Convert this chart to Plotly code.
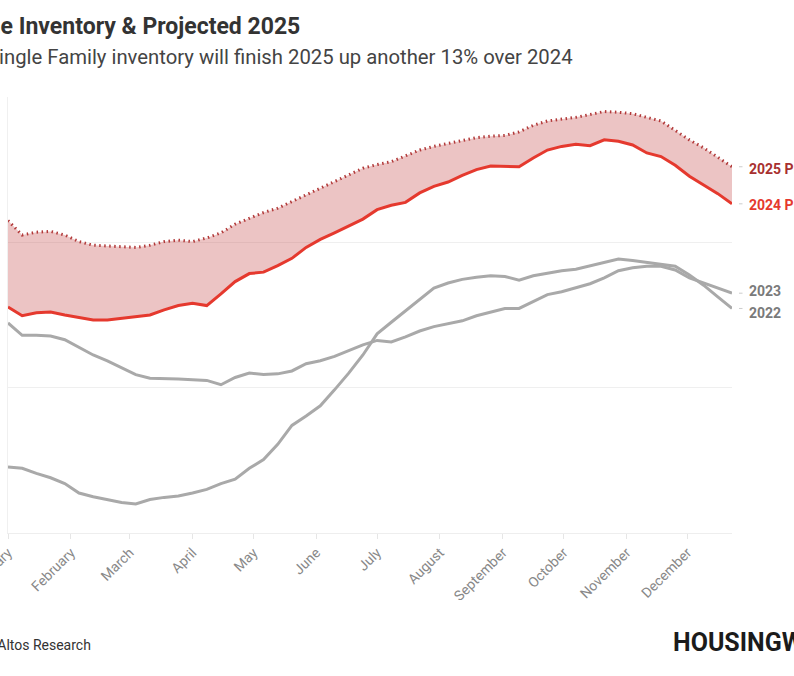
import pandas as pd
import plotly.graph_objects as go

# Weekly single-family inventory (thousands of homes), week starting dates
weeks = pd.date_range("2024-01-01", periods=52, freq="7D")

inv_2022 = [291, 289, 282, 276, 268, 255, 250, 246, 242, 240, 246, 249, 251, 255, 260, 268,
            274, 289, 301, 322, 348, 361, 375, 397, 420, 445, 474, 490, 506, 522, 537, 544,
            549, 552, 554, 553, 548, 554, 558, 561, 563, 568, 573, 577, 575, 572, 570, 567,
            555, 541, 525, 509]
inv_2023 = [489, 472, 472, 471, 466, 456, 445, 437, 428, 418, 413, 413, 412, 411, 410, 404,
            414, 420, 418, 419, 423, 433, 437, 443, 451, 459, 465, 463, 470, 478, 484, 488,
            492, 499, 504, 509, 509, 519, 528, 532, 538, 543, 551, 561, 565, 567, 567, 562,
            551, 544, 536, 530]
inv_2024 = [511, 499, 503, 504, 500, 496, 493, 493, 495, 498, 500, 507, 513, 516, 513, 529,
            546, 557, 559, 568, 578, 593, 604, 613, 622, 632, 645, 651, 655, 668, 677, 683,
            692, 700, 705, 705, 704, 716, 727, 732, 735, 733, 741, 739, 734, 723, 718, 706,
            691, 679, 667, 653]
proj_2025 = [630, 610, 614, 615, 610, 601, 596, 595, 594, 593, 596, 601, 603, 601, 606, 613,
             625, 633, 641, 647, 656, 665, 675, 684, 693, 702, 707, 711, 719, 727, 732, 736,
             740, 744, 746, 747, 752, 761, 767, 769, 772, 776, 780, 779, 777, 772, 767, 754,
             741, 730, 717, 704]

series_labels = ["2025 Projected", "2024 Projected", "2023", "2022"]

GRAY = "#a9a9a9"
RED = "#e5392e"
DARKRED = "#a8302f"

fig = go.Figure()
fig.add_trace(go.Scatter(x=weeks, y=inv_2022, mode="lines", line=dict(color=GRAY, width=3),
                         hoverinfo="skip"))
fig.add_trace(go.Scatter(x=weeks, y=inv_2023, mode="lines", line=dict(color=GRAY, width=3),
                         hoverinfo="skip"))
fig.add_trace(go.Scatter(x=weeks, y=inv_2024, mode="lines", line=dict(color=RED, width=3),
                         hoverinfo="skip"))
fig.add_trace(go.Scatter(x=weeks, y=proj_2025, mode="lines", fill="tonexty",
                         fillcolor="rgba(196,70,70,0.32)",
                         line=dict(color="#b23a3a", width=3, dash="1.5px,3.5px"),
                         hoverinfo="skip"))

W, H = 794, 676
L, R, T, B = 8, 62, 97, 143
pw = W - L - R
ph = H - T - B


def px(xp):
    return (xp - L) / pw


def py(yp):
    return (H - B - yp) / ph


annotations = [
    dict(text="<b>Single Family Home Inventory & Projected 2025</b>", x=px(302), y=py(27),
         xanchor="right", yanchor="middle", font=dict(family="Roboto", size=23, color="#333333")),
    dict(text="Single Family inventory will finish 2025 up another 13% over 2024", x=px(575), y=py(57),
         xanchor="right", yanchor="middle", font=dict(family="Roboto", size=20.3, color="#444444")),
    dict(text="Source: Altos Research", x=px(93), y=py(645), xanchor="right", yanchor="middle",
         font=dict(family="Roboto", size=14, color="#333333")),
    dict(text="<b>HOUSINGWIRE</b>", x=px(671), y=py(642), xanchor="left", yanchor="middle",
         font=dict(family="Roboto", size=25, color="#1b1b1b")),
]

end_vals = [proj_2025[-1], inv_2024[-1], inv_2023[-1], inv_2022[-1]]
label_colors = [DARKRED, RED, "#7a7a7a", "#7a7a7a"]
shifts = [-2, -1, 2, -5]
shapes = []
for lab, v, c, s in zip(series_labels, end_vals, label_colors, shifts):
    annotations.append(dict(text="<b>" + lab + "</b>", x=px(747), y=v, xref="paper", yref="y",
                            xanchor="left", yanchor="middle", yshift=s, showarrow=False,
                            font=dict(family="Roboto", size=14, color=c)))
    shapes.append(dict(type="line", xref="paper", yref="y", x0=px(739), x1=px(742.5),
                       y0=v, y1=v, line=dict(color="#cccccc", width=1)))

for a in annotations:
    a.setdefault("xref", "paper")
    a.setdefault("yref", "paper")
    a["showarrow"] = False

fig.update_layout(
    width=W, height=H,
    margin=dict(l=L, r=R, t=T, b=B, pad=0, autoexpand=False),
    paper_bgcolor="white", plot_bgcolor="white",
    showlegend=False,
    annotations=annotations,
    shapes=shapes,
    font=dict(family="Roboto"),
)
fig.update_xaxes(
    range=[weeks[0], weeks[-1]],
    tickformat="%B", dtick="M1", tick0="2024-01-01",
    tickangle=-45, tickfont=dict(family="Roboto", size=14, color="#888888"),
    ticklabeloverflow="allow", automargin=False,
    ticks="outside", ticklen=5, tickcolor="#e6e6e6",
    showgrid=False, showline=True, linecolor="#eeeeee", linewidth=1,
    zeroline=False,
)
fig.update_yaxes(
    range=[200, 800], dtick=200, showticklabels=False, automargin=False,
    showgrid=True, gridcolor="#efefef", gridwidth=1,
    showline=True, linecolor="#f0f0f0", zeroline=False,
)

fig.write_html("out.html")
